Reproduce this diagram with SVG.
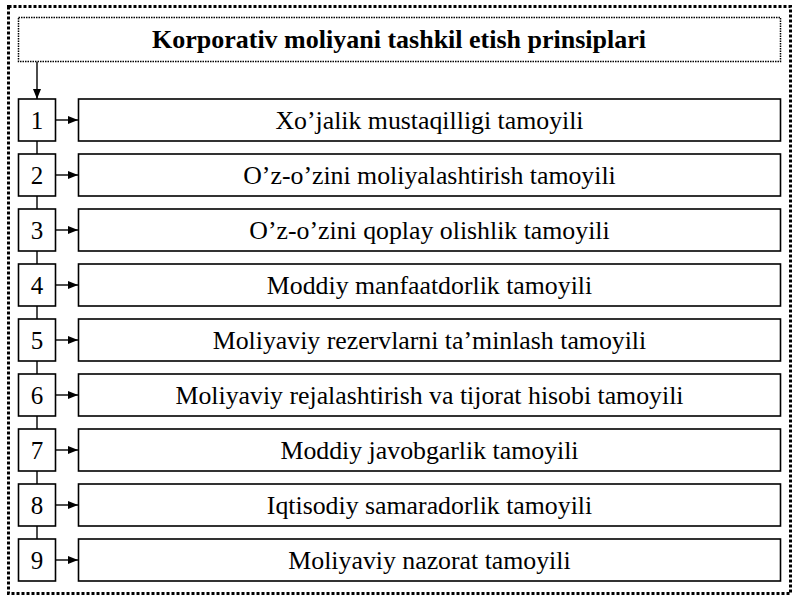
<svg xmlns="http://www.w3.org/2000/svg" width="800" height="600" viewBox="0 0 800 600">
<defs>
<marker id="ah" markerWidth="10" markerHeight="8" refX="10" refY="4" orient="auto" markerUnits="userSpaceOnUse">
<path d="M0,0 L10,4 L0,8 Z" fill="#000"/>
</marker>
<style>
.box{fill:#fff;stroke:#000;stroke-width:1.6}
.num{font-family:"Liberation Serif",serif;font-size:25px;text-anchor:middle}
.lbl{font-family:"Liberation Serif",serif;font-size:25.8px;text-anchor:middle}
.ttl{font-family:"Liberation Serif",serif;font-size:26px;font-weight:bold;text-anchor:middle}
.ln{stroke:#000;stroke-width:1.4;fill:none}
</style>
</defs>
<rect x="0" y="0" width="800" height="600" fill="#fff"/>
<rect id="frame" x="8.5" y="6.5" width="782" height="587" fill="none" stroke="#000" stroke-width="3" stroke-dasharray="3,2"/>
<g id="title">
<rect x="18.5" y="17.5" width="762" height="44" fill="#fff" stroke="#000" stroke-width="1.5" stroke-dasharray="1.5,1"/>
<text class="ttl" x="399" y="48">Korporativ moliyani tashkil etish prinsiplari</text>
</g>
<g id="connectors">
<line class="ln" x1="37" y1="62" x2="37" y2="99" marker-end="url(#ah)"/>
<line class="ln" x1="37" y1="141" x2="37" y2="154"/>
<line class="ln" x1="37" y1="196" x2="37" y2="209"/>
<line class="ln" x1="37" y1="251" x2="37" y2="264"/>
<line class="ln" x1="37" y1="306" x2="37" y2="319"/>
<line class="ln" x1="37" y1="361" x2="37" y2="374"/>
<line class="ln" x1="37" y1="416" x2="37" y2="429"/>
<line class="ln" x1="37" y1="471" x2="37" y2="484"/>
<line class="ln" x1="37" y1="526" x2="37" y2="539"/>
<line class="ln" x1="56" y1="120" x2="78" y2="120" marker-end="url(#ah)"/>
<line class="ln" x1="56" y1="175" x2="78" y2="175" marker-end="url(#ah)"/>
<line class="ln" x1="56" y1="230" x2="78" y2="230" marker-end="url(#ah)"/>
<line class="ln" x1="56" y1="285" x2="78" y2="285" marker-end="url(#ah)"/>
<line class="ln" x1="56" y1="340" x2="78" y2="340" marker-end="url(#ah)"/>
<line class="ln" x1="56" y1="395" x2="78" y2="395" marker-end="url(#ah)"/>
<line class="ln" x1="56" y1="450" x2="78" y2="450" marker-end="url(#ah)"/>
<line class="ln" x1="56" y1="505" x2="78" y2="505" marker-end="url(#ah)"/>
<line class="ln" x1="56" y1="560" x2="78" y2="560" marker-end="url(#ah)"/>
</g>
<g id="n1"><rect class="box" x="18.5" y="99" width="37" height="42"/><text class="num" x="37" y="129">1</text></g>
<g id="t1"><rect class="box" x="78.5" y="99" width="702" height="42"/><text class="lbl" x="429.5" y="129">Xo’jalik mustaqilligi tamoyili</text></g>
<g id="n2"><rect class="box" x="18.5" y="154" width="37" height="42"/><text class="num" x="37" y="184">2</text></g>
<g id="t2"><rect class="box" x="78.5" y="154" width="702" height="42"/><text class="lbl" x="429.5" y="184">O’z-o’zini moliyalashtirish tamoyili</text></g>
<g id="n3"><rect class="box" x="18.5" y="209" width="37" height="42"/><text class="num" x="37" y="239">3</text></g>
<g id="t3"><rect class="box" x="78.5" y="209" width="702" height="42"/><text class="lbl" x="429.5" y="239">O’z-o’zini qoplay olishlik tamoyili</text></g>
<g id="n4"><rect class="box" x="18.5" y="264" width="37" height="42"/><text class="num" x="37" y="294">4</text></g>
<g id="t4"><rect class="box" x="78.5" y="264" width="702" height="42"/><text class="lbl" x="429.5" y="294">Moddiy manfaatdorlik tamoyili</text></g>
<g id="n5"><rect class="box" x="18.5" y="319" width="37" height="42"/><text class="num" x="37" y="349">5</text></g>
<g id="t5"><rect class="box" x="78.5" y="319" width="702" height="42"/><text class="lbl" x="429.5" y="349">Moliyaviy rezervlarni ta’minlash tamoyili</text></g>
<g id="n6"><rect class="box" x="18.5" y="374" width="37" height="42"/><text class="num" x="37" y="404">6</text></g>
<g id="t6"><rect class="box" x="78.5" y="374" width="702" height="42"/><text class="lbl" x="429.5" y="404">Moliyaviy rejalashtirish va tijorat hisobi tamoyili</text></g>
<g id="n7"><rect class="box" x="18.5" y="429" width="37" height="42"/><text class="num" x="37" y="459">7</text></g>
<g id="t7"><rect class="box" x="78.5" y="429" width="702" height="42"/><text class="lbl" x="429.5" y="459">Moddiy javobgarlik tamoyili</text></g>
<g id="n8"><rect class="box" x="18.5" y="484" width="37" height="42"/><text class="num" x="37" y="514">8</text></g>
<g id="t8"><rect class="box" x="78.5" y="484" width="702" height="42"/><text class="lbl" x="429.5" y="514">Iqtisodiy samaradorlik tamoyili</text></g>
<g id="n9"><rect class="box" x="18.5" y="539" width="37" height="42"/><text class="num" x="37" y="569">9</text></g>
<g id="t9"><rect class="box" x="78.5" y="539" width="702" height="42"/><text class="lbl" x="429.5" y="569">Moliyaviy nazorat tamoyili</text></g>
</svg>
